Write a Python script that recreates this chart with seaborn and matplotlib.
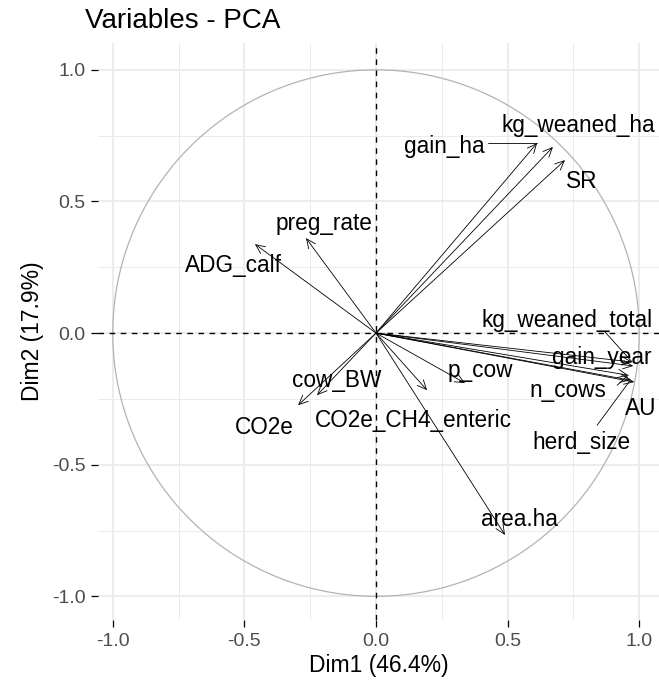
import numpy as np
import pandas as pd
import matplotlib
matplotlib.use("Agg")
import matplotlib.pyplot as plt
import seaborn as sns

# PCA variable coordinates (Dim1, Dim2)
variables = ["gain_ha", "kg_weaned_ha", "SR", "preg_rate", "ADG_calf",
             "cow_BW", "CO2e", "CO2e_CH4_enteric", "p_cow", "area.ha",
             "kg_weaned_total", "gain_year", "n_cows", "herd_size", "AU"]
dim1 = [0.612, 0.672, 0.718, -0.266, -0.460,
        -0.224, -0.296, 0.194, 0.338, 0.490,
        0.973, 0.977, 0.958, 0.966, 0.981]
dim2 = [0.722, 0.707, 0.657, 0.361, 0.338,
        -0.236, -0.274, -0.217, -0.190, -0.767,
        -0.110, -0.125, -0.160, -0.179, -0.186]
dim1_pct = 46.4
dim2_pct = 17.9

# repelled label placement (layout only)
label_pos = {
    "gain_ha": (0.258, 0.707), "kg_weaned_ha": (0.768, 0.790),
    "SR": (0.783, 0.574), "preg_rate": (-0.198, 0.418),
    "ADG_calf": (-0.543, 0.258), "cow_BW": (-0.148, -0.179),
    "CO2e": (-0.426, -0.357), "CO2e_CH4_enteric": (0.141, -0.331),
    "p_cow": (0.395, -0.141), "area.ha": (0.543, -0.710),
    "kg_weaned_total": (0.726, 0.049), "gain_year": (0.859, -0.091),
    "n_cows": (0.730, -0.217), "AU": (1.007, -0.285),
    "herd_size": (0.779, -0.414),
}
# label -> point connector segments start
segment_start = {
    "gain_ha": (0.426, 0.722), "kg_weaned_total": (0.870, 0.004),
    "n_cows": (0.916, -0.198), "herd_size": (0.840, -0.350),
}

df = pd.DataFrame({"name": variables, "Dim1": dim1, "Dim2": dim2})

sns.set_theme(style="whitegrid")
plt.rcParams["font.family"] = ["Liberation Sans", "DejaVu Sans"]

fig = plt.figure(figsize=(6.59, 6.83), dpi=100)
ax = fig.add_axes([98 / 659, 63 / 683, 561 / 659, 577 / 683])
ax.set_facecolor("white")

# circle of correlations
theta = np.linspace(0, 2 * np.pi, 400)
circle = pd.DataFrame({"x": np.cos(theta), "y": np.sin(theta)})
sns.lineplot(data=circle, x="x", y="y", sort=False, estimator=None,
             color="#B3B3B3", linewidth=0.9, ax=ax, zorder=2)

ax.axhline(0, color="black", linestyle=(0, (4, 4)), linewidth=1.0, zorder=2)
ax.axvline(0, color="black", linestyle=(0, (4, 4)), linewidth=1.0, zorder=2)

for _, row in df.iterrows():
    ax.annotate("", xy=(row["Dim1"], row["Dim2"]), xytext=(0, 0),
                arrowprops=dict(arrowstyle="->,head_length=0.55,head_width=0.25",
                                color="black", lw=0.6, shrinkA=0, shrinkB=0,
                                mutation_scale=12), zorder=3)
    lx, ly = label_pos[row["name"]]
    ax.text(lx, ly, row["name"], ha="center", va="center", fontsize=16.3,
            color="black", zorder=4)
    if row["name"] in segment_start:
        sx, sy = segment_start[row["name"]]
        ax.plot([sx, row["Dim1"]], [sy, row["Dim2"]], color="black",
                linewidth=0.6, zorder=3)

ax.set_xlim(-1.056, 1.075)
ax.set_ylim(-1.090, 1.102)
ticks = [-1.0, -0.5, 0.0, 0.5, 1.0]
ax.set_xticks(ticks)
ax.set_yticks(ticks)
ax.set_xticklabels([f"{t:.1f}" for t in ticks])
ax.set_yticklabels([f"{t:.1f}" for t in ticks])
ax.set_xticks([-0.75, -0.25, 0.25, 0.75], minor=True)
ax.set_yticks([-0.75, -0.25, 0.25, 0.75], minor=True)
ax.grid(which="major", color="#EBEBEB", linewidth=1.3)
ax.grid(which="minor", color="#EBEBEB", linewidth=0.7)
ax.tick_params(which="major", direction="out", length=5, width=0.9,
               color="black", labelcolor="#4D4D4D", labelsize=14, pad=4,
               bottom=True, left=True)
ax.tick_params(which="minor", length=0)
for s in ax.spines.values():
    s.set_visible(False)

ax.set_xlabel(f"Dim1 ({dim1_pct}%)", fontsize=16.5, color="black", labelpad=3)
ax.set_ylabel(f"Dim2 ({dim2_pct}%)", fontsize=16.5, color="black", labelpad=6)

fig.text(85 / 659, 1 - 28 / 683, "Variables - PCA", fontsize=20,
         ha="left", va="baseline", color="black")

fig.savefig("out.png", dpi=100)
